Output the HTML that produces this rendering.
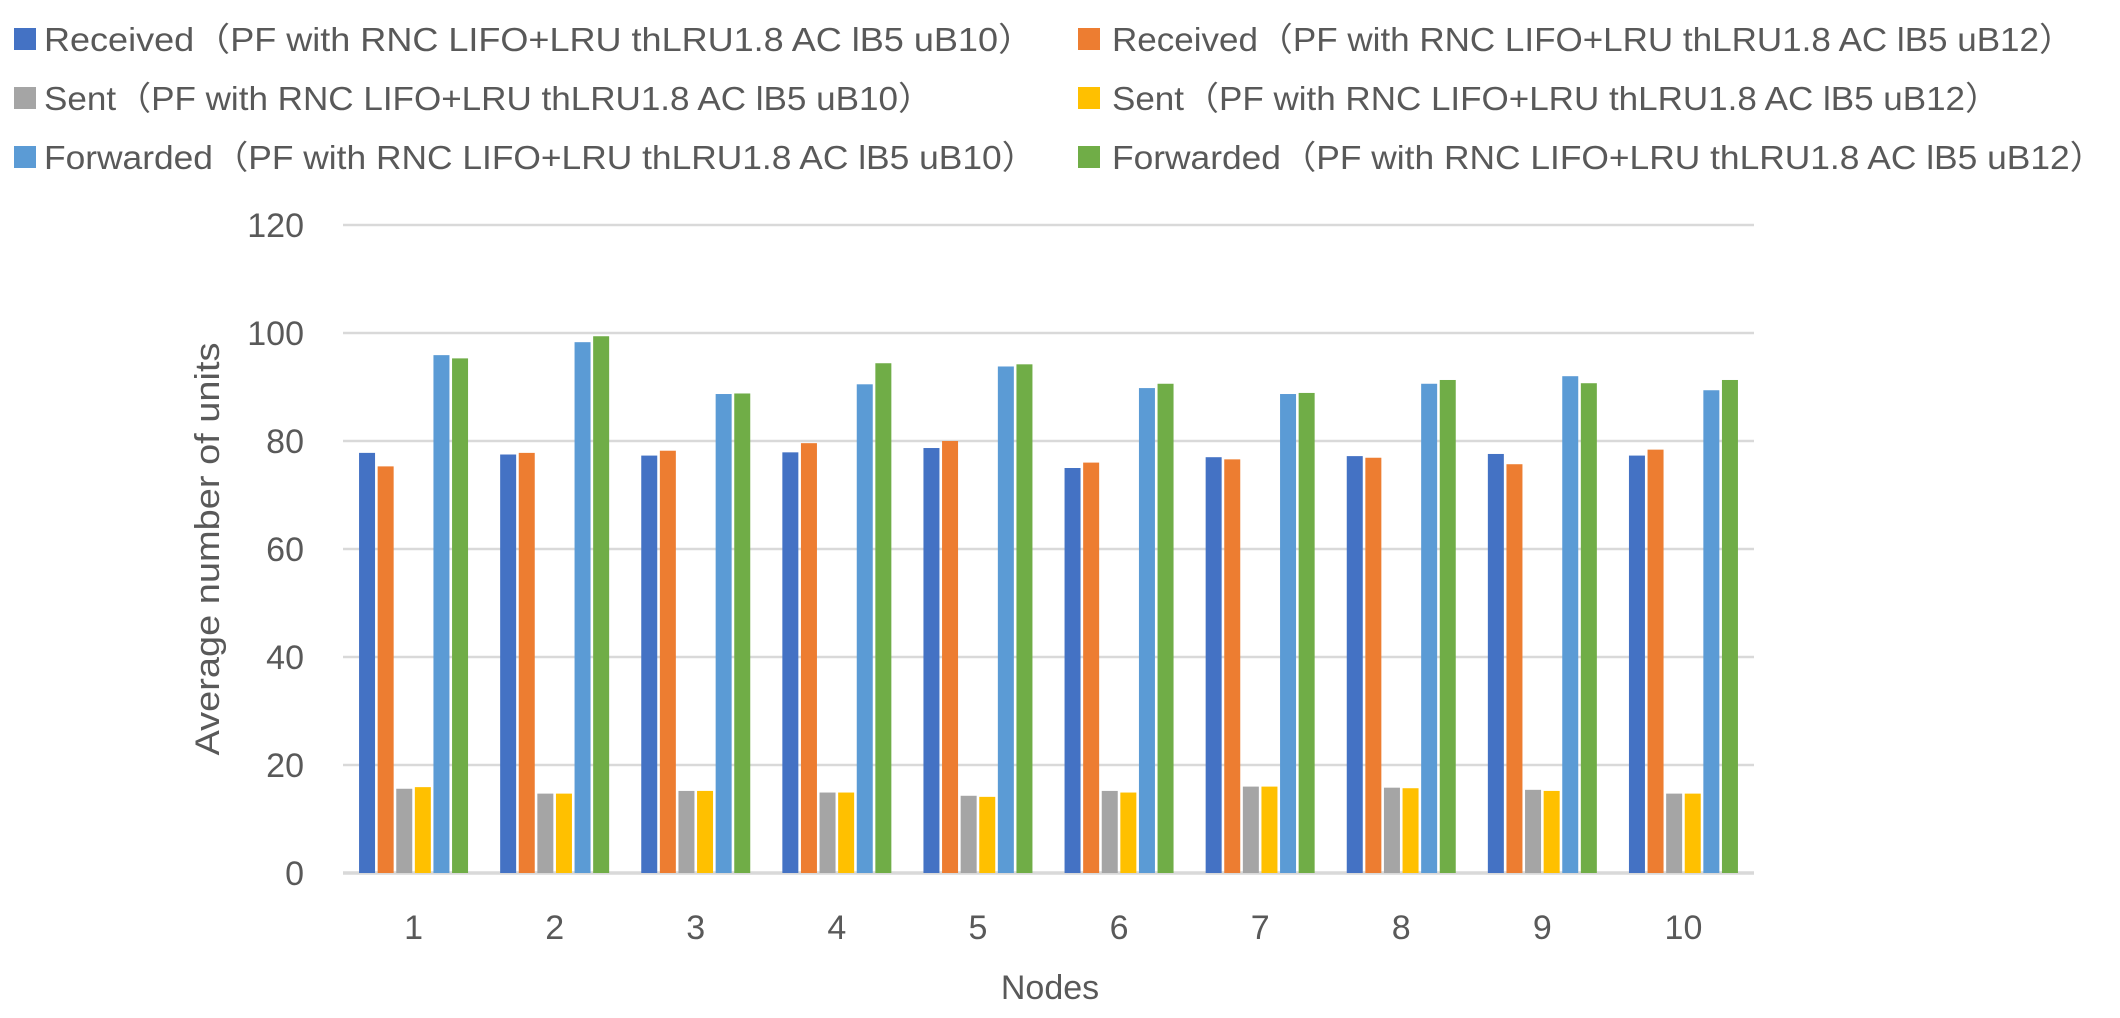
<!DOCTYPE html>
<html><head><meta charset="utf-8"><style>
html,body{margin:0;padding:0;background:#fff;}
svg{display:block;}
text{font-family:"Liberation Sans","Noto Sans CJK SC",sans-serif;fill:#595959;}
</style></head><body>
<svg id="chart" width="2120" height="1018" viewBox="0 0 2120 1018" xmlns="http://www.w3.org/2000/svg">
<g id="legend"></g>
<g id="grid"></g>
<g id="bars"></g>
<g id="yticks"></g>
<g id="xticks"></g>
<text transform="translate(219,549) rotate(-90)" text-anchor="middle" font-size="34" textLength="413" lengthAdjust="spacingAndGlyphs">Average number of units</text>
<text x="1050" y="999" text-anchor="middle" font-size="34">Nodes</text>
</svg>
<script>
const categories = ["1","2","3","4","5","6","7","8","9","10"];
const seriesNames = [
 "Received（PF with RNC LIFO+LRU thLRU1.8 AC lB5 uB10）",
 "Received（PF with RNC LIFO+LRU thLRU1.8 AC lB5 uB12）",
 "Sent（PF with RNC LIFO+LRU thLRU1.8 AC lB5 uB10）",
 "Sent（PF with RNC LIFO+LRU thLRU1.8 AC lB5 uB12）",
 "Forwarded（PF with RNC LIFO+LRU thLRU1.8 AC lB5 uB10）",
 "Forwarded（PF with RNC LIFO+LRU thLRU1.8 AC lB5 uB12）"];
const receivedB10 = [77.8,77.5,77.3,77.9,78.7,75.0,77.0,77.2,77.6,77.3];
const receivedB12 = [75.3,77.8,78.2,79.6,80.0,76.0,76.6,76.9,75.7,78.4];
const sentB10 = [15.6,14.7,15.2,14.9,14.3,15.2,16.0,15.8,15.4,14.7];
const sentB12 = [15.9,14.7,15.2,14.9,14.1,14.9,16.0,15.7,15.2,14.7];
const forwardedB10 = [95.9,98.3,88.7,90.5,93.8,89.8,88.7,90.6,92.0,89.4];
const forwardedB12 = [95.3,99.4,88.8,94.4,94.2,90.6,88.9,91.3,90.7,91.3];
const yTicks = [0,20,40,60,80,100,120];

const series = [receivedB10,receivedB12,sentB10,sentB12,forwardedB10,forwardedB12];
const colors = ["#4472c4","#ed7d31","#a5a5a5","#ffc000","#5b9bd5","#70ad47"];
const NS="http://www.w3.org/2000/svg";
const plotL=343, plotR=1754, y0=873, yTop=225, yMax=120;
const yScale = v => y0 - (v/yMax)*(y0-yTop);
const catW=(plotR-plotL)/categories.length;
const xCenter = i => plotL + catW*(i+0.5);
const barW=16, step=18.6;
function mk(tag,attrs,parent){const e=document.createElementNS(NS,tag);for(const k in attrs)e.setAttribute(k,attrs[k]);parent.appendChild(e);return e;}

const grid=document.getElementById('grid');
const yt=document.getElementById('yticks');
yTicks.forEach(t=>{
 const l=mk('line',{x1:plotL,x2:plotR,y1:yScale(t),y2:yScale(t),stroke:'#d9d9d9','stroke-width':t===0?3.5:2.5},grid);
 
 
 const tx=mk('text',{x:304,y:yScale(t)+12,'text-anchor':'end','font-size':34},yt);
 tx.textContent=t;
 
 
});
const xt=document.getElementById('xticks');
categories.forEach((c,i)=>{
 const tx=mk('text',{x:xCenter(i),y:939,'text-anchor':'middle','font-size':34},xt);
 tx.textContent=c;
 
 
});
const bars=document.getElementById('bars');
const groupW=step*5+barW;
series.forEach((s,si)=>{
 s.forEach((v,i)=>{
  const x=xCenter(i)-groupW/2+si*step;
  const r=mk('rect',{x:x,y:yScale(v),width:barW,height:y0-yScale(v),fill:colors[si]},bars);
  
  
 });
});
const legend=document.getElementById('legend');
const legX=[[14,44],[1078,1112]];
const legY=[40,99,158];
const legEnd=[1034,2074,933,2000,1037,2105];
seriesNames.forEach((n,si)=>{
 const col=si%2,row=Math.floor(si/2);
 const sq=mk('rect',{x:legX[col][0],y:legY[row]-12,width:22,height:22,fill:colors[si]},legend);
 
 
 const tx=mk('text',{x:legX[col][1],y:legY[row]+11,'font-size':33,textLength:legEnd[si]-legX[col][1],lengthAdjust:'spacingAndGlyphs'},legend);
 tx.textContent=n;
 
 
});
</script>
</body></html>
